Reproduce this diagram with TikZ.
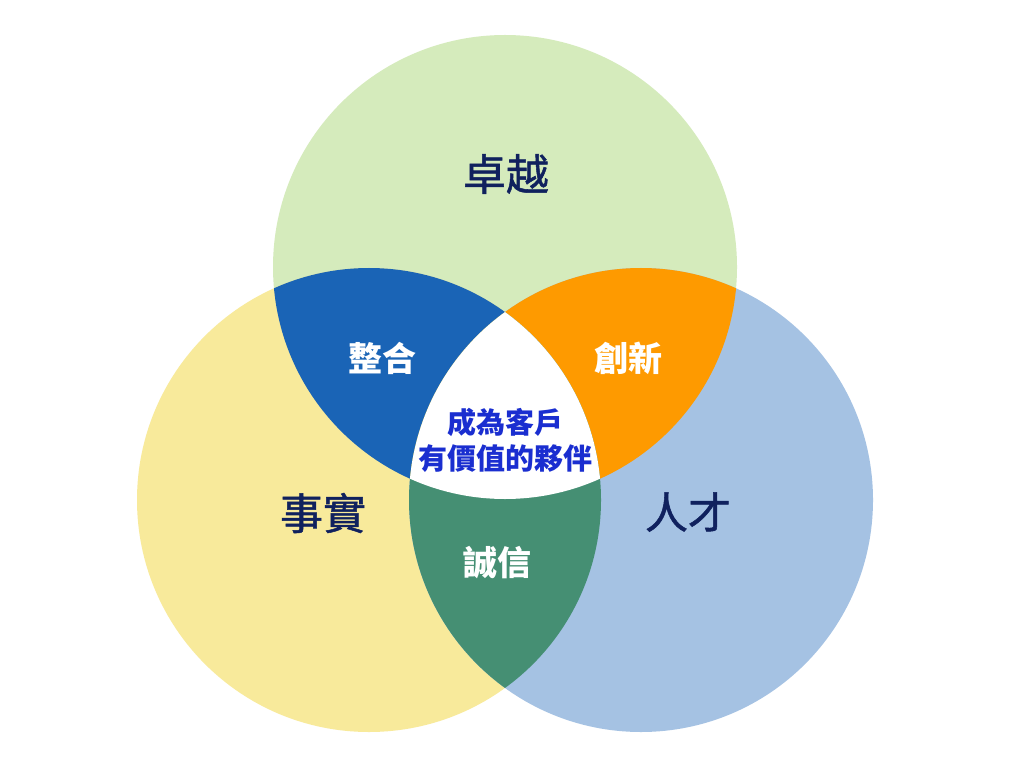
\documentclass[tikz,border=0pt]{standalone}
\usepackage{fontspec}
\newfontfamily\cjk{Noto Sans CJK TC}
\newfontfamily\cjkmed[FakeBold=1.2]{Noto Sans CJK TC}
\definecolor{cTop}{HTML}{D5EBBC}
\definecolor{cLeft}{HTML}{F8EA9B}
\definecolor{cRight}{HTML}{A5C2E3}
\definecolor{cTL}{HTML}{1A64B6}
\definecolor{cTR}{HTML}{FE9A00}
\definecolor{cLR}{HTML}{458F73}
\definecolor{navy}{HTML}{10215E}
\definecolor{ctext}{HTML}{1A2ED0}
\tikzset{
  biglabel/.style={font=\cjkmed\fontsize{43}{50}\selectfont, text=navy, inner sep=0pt},
  lenslabel/.style={font=\cjk\bfseries\fontsize{34}{40}\selectfont, text=white, inner sep=0pt},
  centerlabel/.style={font=\cjk\bfseries\fontsize{29}{36}\selectfont, text=ctext, align=center, inner sep=0pt}
}
\begin{document}
\begin{tikzpicture}[x=1pt,y=-1pt]
\useasboundingbox (0,0) rectangle (1016,775);
\fill[white] (0,0) rectangle (1016,775);
\coordinate (T) at (505,267);
\coordinate (L) at (369,500);
\coordinate (R) at (641,500);
\def\rad{232}
\fill[cTop] (T) circle (\rad);
\fill[cLeft] (L) circle (\rad);
\fill[cRight] (R) circle (\rad);
\begin{scope}
  \clip (T) circle (\rad);
  \fill[cTL] (L) circle (\rad);
\end{scope}
\begin{scope}
  \clip (T) circle (\rad);
  \fill[cTR] (R) circle (\rad);
\end{scope}
\begin{scope}
  \clip (L) circle (\rad);
  \fill[cLR] (R) circle (\rad);
\end{scope}
\begin{scope}
  \clip (T) circle (\rad);
  \clip (L) circle (\rad);
  \fill[white] (R) circle (\rad);
\end{scope}
\node[biglabel] (top) at (506,174) {卓越};
\node[biglabel] (left) at (323,513) {事實};
\node[biglabel] (right) at (688,512) {人才};
\node[lenslabel] (tl) at (382,358) {整合};
\node[lenslabel] (tr) at (628,358) {創新};
\node[lenslabel] (lr) at (497,563) {誠信};
\node[centerlabel] (center) at (505,440) {成為客戶\\有價值的夥伴};
\end{tikzpicture}
\end{document}
